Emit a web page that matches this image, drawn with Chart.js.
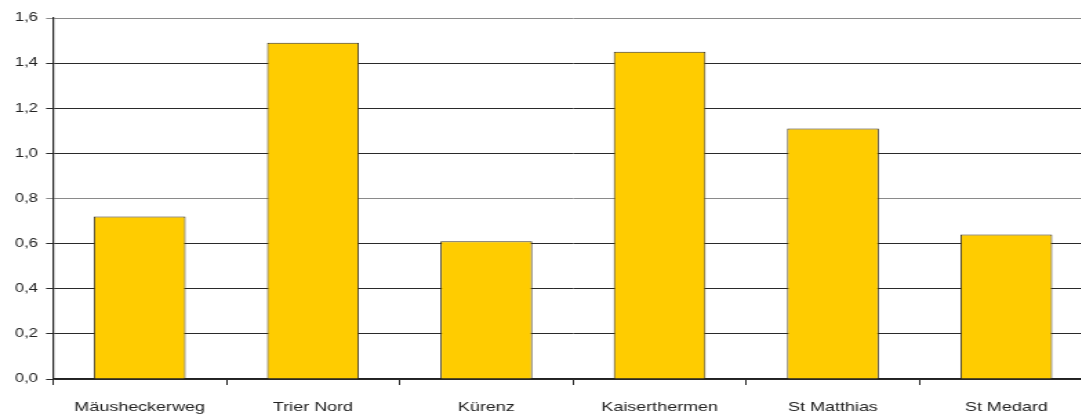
<!DOCTYPE html>
<html><head><meta charset="utf-8">
<script src="https://cdn.jsdelivr.net/npm/chart.js@4/dist/chart.umd.min.js"></script>
<style>
html,body{margin:0;padding:0;background:#fff;overflow:hidden;width:1081px;height:417px}
#c{display:block;transform:scaleX(1.38);transform-origin:0 0}
</style>
</head><body><canvas id="c" width="792" height="417"></canvas>
<script>
const categories = ["Mäusheckerweg", "Trier Nord", "Kürenz", "Kaiserthermen", "St Matthias", "St Medard"];
const values = [0.72, 1.49, 0.61, 1.45, 1.11, 0.64];
const yTicks = [0, 0.2, 0.4, 0.6, 0.8, 1.0, 1.2, 1.4, 1.6];

new Chart(document.getElementById('c'), {
  type: 'bar',
  data: { labels: categories, datasets: [{ data: values, backgroundColor: '#FFCC00', borderColor: '#3a3320', borderWidth: 1, barPercentage: 0.53, categoryPercentage: 1.0 }] },
  options: {
    responsive: false, animation: false,
    layout: { padding: { top: 18, right: 0, left: 0, bottom: 0 } },
    plugins: { legend: { display: false }, tooltip: { enabled: false } },
    scales: {
      x: {
        offset: true,
        grid: { display: true, offset: true, drawOnChartArea: false, drawTicks: true, tickLength: 6, color: '#222', lineWidth: 1 },
        border: { display: true, color: '#222', width: 1.2 },
        ticks: { color: '#222', font: { family: 'Liberation Sans, Arial', size: 13 }, padding: 15, maxRotation: 0 },
        afterFit: s => { s.height = 38; }
      },
      y: {
        min: 0, max: 1.6,
        afterBuildTicks: s => { s.ticks = yTicks.map(v => ({ value: v })); },
        grid: { color: ctx => (Math.abs(ctx.tick.value - 0.8) < 1e-6 || Math.abs(ctx.tick.value - 1.6) < 1e-6) ? '#8a8a8a' : '#2a2a2a', lineWidth: 1, tickLength: 5, drawTicks: true },
        border: { display: true, color: '#222', width: 1.2 },
        ticks: { color: '#222', font: { family: 'Liberation Sans, Arial', size: 12 }, padding: 6, callback: v => v.toFixed(1).replace('.', ',') },
        afterFit: s => { s.width = 38.4; }
      }
    }
  }
});
</script></body></html>
